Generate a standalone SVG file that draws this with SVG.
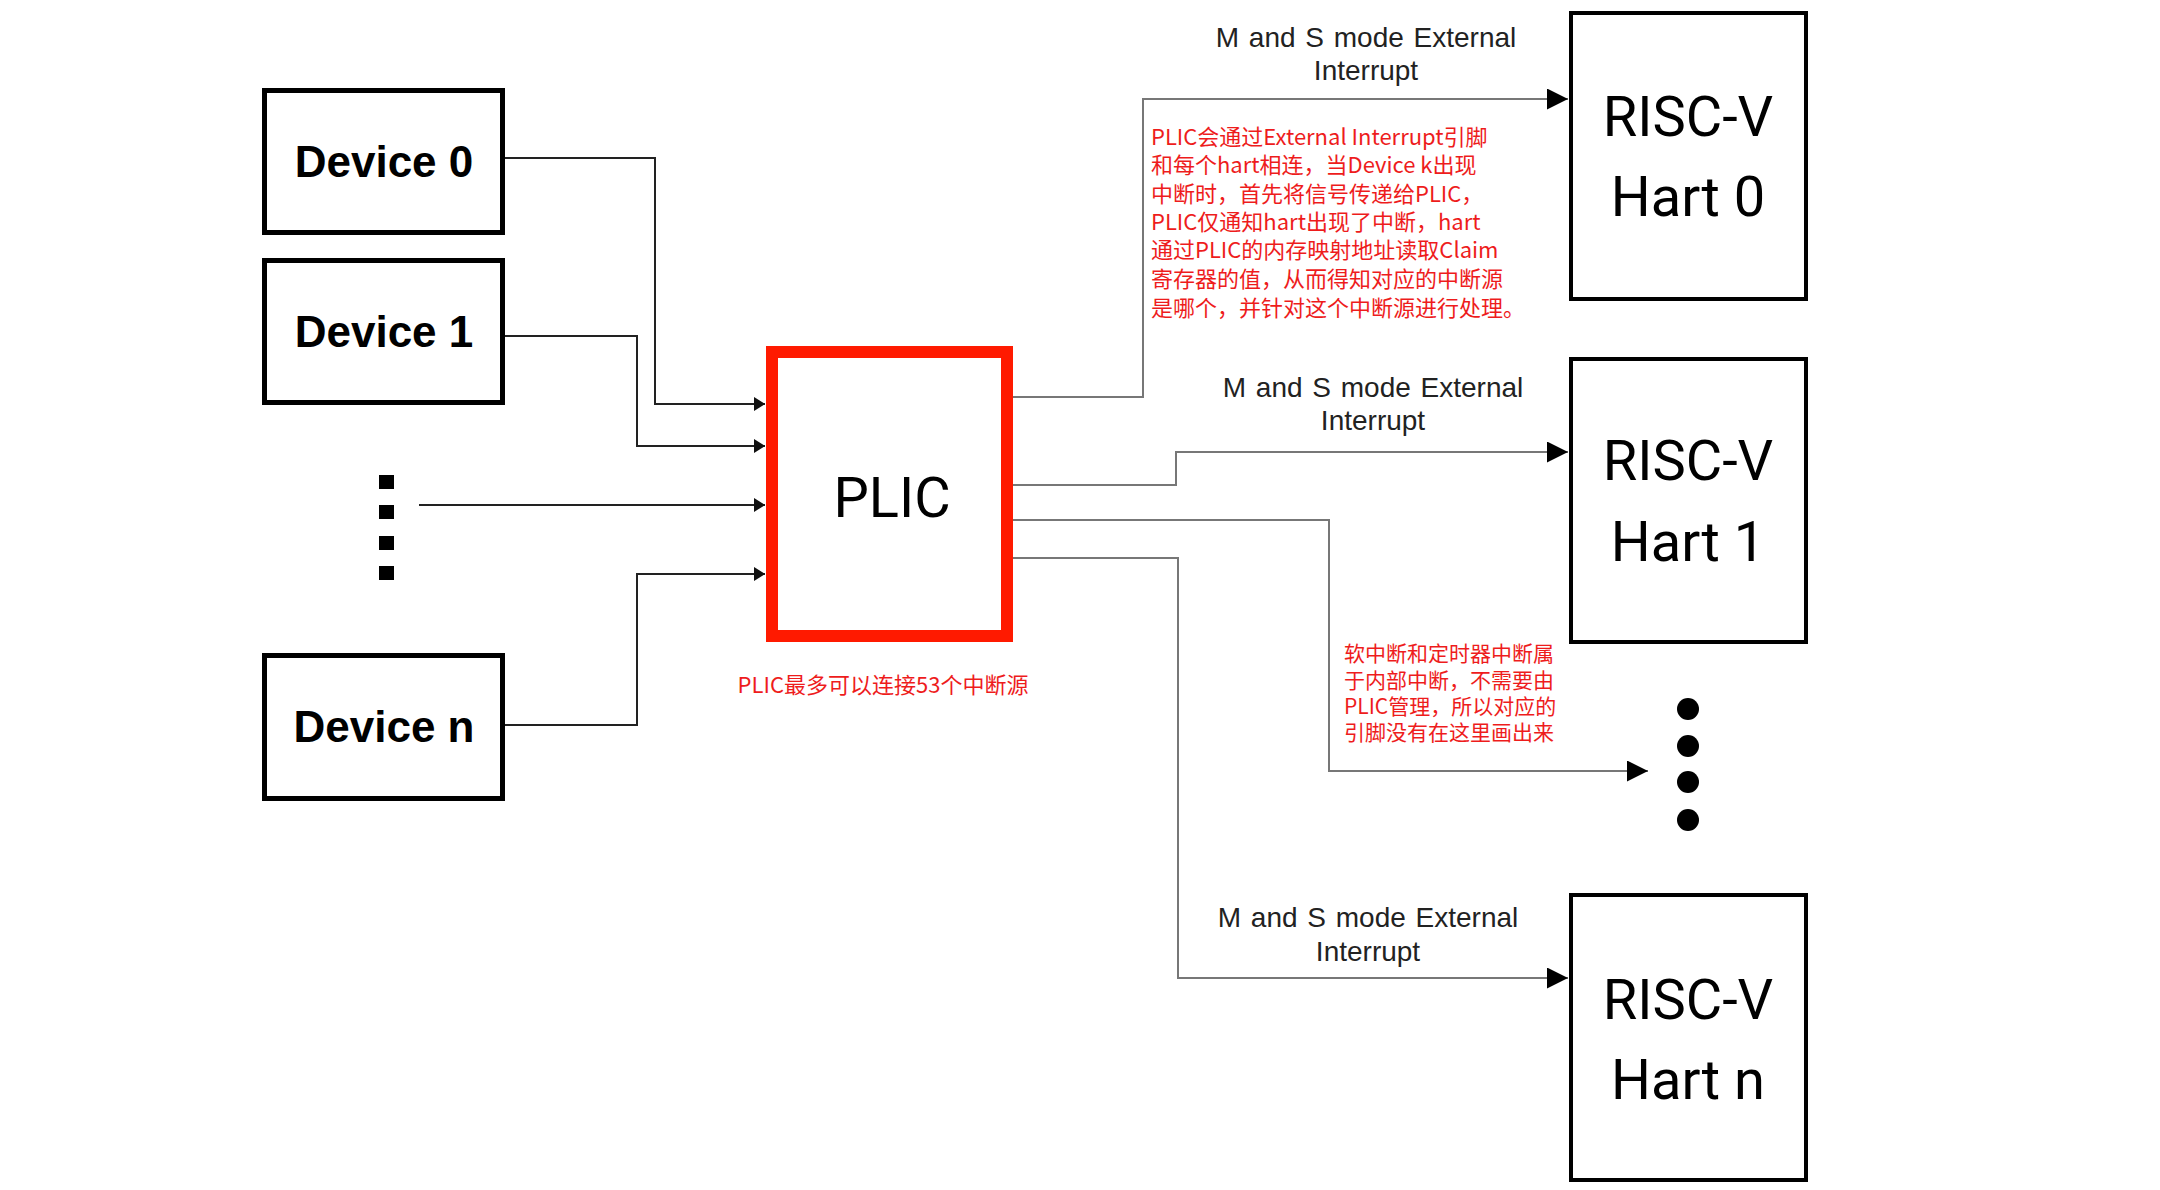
<svg xmlns="http://www.w3.org/2000/svg" width="2160" height="1190" viewBox="0 0 2160 1190">
<style>
.dev{fill:#fff;stroke:#000;stroke-width:5}
.hart{fill:#fff;stroke:#000;stroke-width:4}
.devt{font-family:"Liberation Sans",Arial,sans-serif;font-weight:bold;font-size:44px;fill:#000;text-anchor:middle}
.big{font-family:Roboto,"Liberation Sans",sans-serif;font-size:56px;fill:#000;text-anchor:middle}
.lbl{font-family:"Liberation Sans",Arial,sans-serif;font-size:28px;fill:#222;text-anchor:middle;word-spacing:2px}
.note{font-family:"Liberation Sans","Noto Sans CJK SC",sans-serif;font-size:22px;fill:#ee1c1c}
.cn{font-family:"Noto Sans CJK SC",sans-serif;fill:#ee1c1c}
.inl{fill:none;stroke:#222;stroke-width:2}
.outl{fill:none;stroke:#777;stroke-width:2}
</style>
<defs>
<marker id="a-small" markerUnits="userSpaceOnUse" markerWidth="12" markerHeight="14" refX="11" refY="7" orient="auto">
<path d="M0,0 L11,7 L0,14 z" fill="#111"/>
</marker>
<marker id="a-big" markerUnits="userSpaceOnUse" markerWidth="22" markerHeight="21" refX="21" refY="10.5" orient="auto">
<path d="M0,0 L21,10.5 L0,21 z" fill="#000"/>
</marker>
</defs>
<rect width="2160" height="1190" fill="#fff"/>

<g id="connectors">
<path class="inl" d="M505,158 H655 V404 H765" marker-end="url(#a-small)"/>
<path class="inl" d="M505,336 H637 V446 H765" marker-end="url(#a-small)"/>
<path class="inl" d="M419,505 H765" marker-end="url(#a-small)"/>
<path class="inl" d="M505,725 H637 V574 H765" marker-end="url(#a-small)"/>
<path class="outl" d="M1013,397 H1143 V99 H1568" marker-end="url(#a-big)"/>
<path class="outl" d="M1013,485 H1176 V452 H1568" marker-end="url(#a-big)"/>
<path class="outl" d="M1013,520 H1329 V771 H1648" marker-end="url(#a-big)"/>
<path class="outl" d="M1013,558 H1178 V978 H1568" marker-end="url(#a-big)"/>
<text class="lbl" x="1366" y="47">M and S mode  External</text>
<text class="lbl" x="1366" y="80">Interrupt</text>
<text class="lbl" x="1373" y="397">M and S mode  External</text>
<text class="lbl" x="1373" y="430">Interrupt</text>
<text class="lbl" x="1368" y="927">M and S mode  External</text>
<text class="lbl" x="1368" y="961">Interrupt</text>
</g>

<g id="device0">
<rect class="dev" x="264.5" y="90.5" width="238" height="142"/>
<text class="devt" x="384" y="177">Device 0</text>
</g>
<g id="device1">
<rect class="dev" x="264.5" y="260.5" width="238" height="142"/>
<text class="devt" x="384" y="347">Device 1</text>
</g>
<g id="device-dots">
<rect x="379" y="475" width="15" height="14" fill="#000"/>
<rect x="379" y="505" width="15" height="14" fill="#000"/>
<rect x="379" y="536" width="15" height="14" fill="#000"/>
<rect x="379" y="566" width="15" height="14" fill="#000"/>
</g>
<g id="devicen">
<rect class="dev" x="264.5" y="655.5" width="238" height="143"/>
<text class="devt" x="384" y="742">Device n</text>
</g>

<g id="plic">
<rect x="772" y="352" width="235" height="284" fill="#fff" stroke="#ff1a00" stroke-width="12"/>
<text class="big" x="892" y="517">PLIC</text>
<text class="note cn" x="883" y="693" font-size="22" text-anchor="middle">PLIC最多可以连接53个中断源</text>
</g>

<g id="hart0">
<rect class="hart" x="1571" y="13" width="235" height="286"/>
<text class="big" x="1688" y="136">RISC-V</text>
<text class="big" x="1688" y="216">Hart 0</text>
</g>
<g id="hart1">
<rect class="hart" x="1571" y="359" width="235" height="283"/>
<text class="big" x="1688" y="480">RISC-V</text>
<text class="big" x="1688" y="561">Hart 1</text>
</g>
<g id="hart-dots">
<circle cx="1688" cy="709" r="11" fill="#000"/>
<circle cx="1688" cy="746" r="11" fill="#000"/>
<circle cx="1688" cy="782" r="11" fill="#000"/>
<circle cx="1688" cy="820" r="11" fill="#000"/>
</g>
<g id="hartn">
<rect class="hart" x="1571" y="895" width="235" height="285"/>
<text class="big" x="1688" y="1019">RISC-V</text>
<text class="big" x="1688" y="1099">Hart n</text>
</g>

<g id="note-plic" class="cn" font-size="22">
<text x="1151" y="145">PLIC会通过External Interrupt引脚</text>
<text x="1151" y="173">和每个hart相连，当Device k出现</text>
<text x="1151" y="202">中断时，首先将信号传递给PLIC，</text>
<text x="1151" y="230">PLIC仅通知hart出现了中断，hart</text>
<text x="1151" y="258">通过PLIC的内存映射地址读取Claim</text>
<text x="1151" y="287">寄存器的值，从而得知对应的中断源</text>
<text x="1151" y="316">是哪个，并针对这个中断源进行处理。</text>
</g>
<g id="note-internal" class="cn" font-size="21">
<text x="1344" y="661">软中断和定时器中断属</text>
<text x="1344" y="688">于内部中断，不需要由</text>
<text x="1344" y="714">PLIC管理，所以对应的</text>
<text x="1344" y="740">引脚没有在这里画出来</text>
</g>
</svg>
